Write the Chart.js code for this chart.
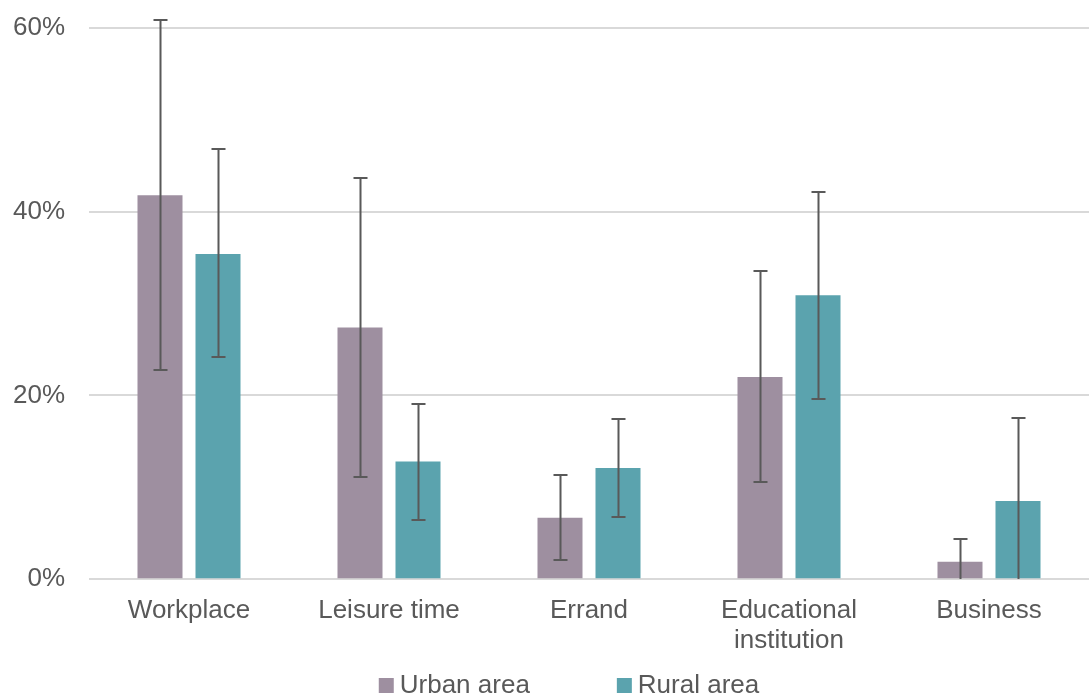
<!DOCTYPE html>
<html>
<head>
<meta charset="utf-8">
<script src="https://cdn.jsdelivr.net/npm/chart.js@4.4.1/dist/chart.umd.min.js"></script>
<style>
  html, body { margin: 0; padding: 0; background: #fff; }
  #wrap { width: 1089px; height: 695px; }
</style>
</head>
<body>
<div id="wrap"><canvas id="tripChart" width="1089" height="695"></canvas></div>
<script>
const categories = ['Workplace', 'Leisure time', 'Errand', ['Educational', 'institution'], 'Business'];
const urbanValues = [41.8, 27.4, 6.7, 22.0, 1.9];
const urbanLow = [22.8, 11.1, 2.1, 10.6, 0];
const urbanHigh = [60.9, 43.7, 11.3, 33.5, 4.4];
const ruralValues = [35.4, 12.8, 12.1, 30.9, 8.5];
const ruralLow = [24.2, 6.4, 6.8, 19.6, 0];
const ruralHigh = [46.8, 19.1, 17.4, 42.1, 17.6];
const yTicks = [0, 20, 40, 60];

const FONT = '"Liberation Sans", Arial, sans-serif';

// whiskers for the confidence ranges
const errorBars = {
    id: 'errorBars',
    afterDatasetsDraw(chart) {
        const ctx = chart.ctx;
        const y = chart.scales.y;
        const ranges = [[urbanLow, urbanHigh], [ruralLow, ruralHigh]];
        ctx.save();
        ctx.strokeStyle = '#595959';
        ctx.lineWidth = 2;
        chart.data.datasets.forEach(function (ds, i) {
            const meta = chart.getDatasetMeta(i);
            meta.data.forEach(function (bar, j) {
                const x = Math.round(bar.x) + 0.5;
                const top = Math.round(y.getPixelForValue(ranges[i][1][j]));
                const bottom = Math.round(y.getPixelForValue(ranges[i][0][j]));
                ctx.beginPath();
                ctx.moveTo(x, top);
                ctx.lineTo(x, bottom);
                ctx.moveTo(x - 7, top);
                ctx.lineTo(x + 7, top);
                if (ranges[i][0][j] > 0) {
                    ctx.moveTo(x - 7, bottom);
                    ctx.lineTo(x + 7, bottom);
                }
                ctx.stroke();
            });
        });
        ctx.restore();
    }
};

// legend with wide spacing between the two entries
const wideLegend = {
    id: 'wideLegend',
    afterDraw(chart) {
        const ctx = chart.ctx;
        const box = 15, gapText = 6, gapItem = 87;
        const yMid = 685;
        ctx.save();
        ctx.font = '26px ' + FONT;
        ctx.textBaseline = 'middle';
        ctx.textAlign = 'left';
        const items = chart.data.datasets.map(function (ds) {
            return { text: ds.label, color: ds.backgroundColor, w: ctx.measureText(ds.label).width };
        });
        let total = 0;
        items.forEach(function (it, i) {
            total += box + gapText + it.w + (i > 0 ? gapItem : 0);
        });
        let x = 569 - total / 2;
        items.forEach(function (it) {
            ctx.fillStyle = it.color;
            ctx.fillRect(x, yMid - 7, box, box);
            ctx.fillStyle = '#595959';
            ctx.fillText(it.text, x + box + gapText, yMid + 1);
            x += box + gapText + it.w + gapItem;
        });
        ctx.restore();
    }
};

Chart.defaults.font.family = FONT;
Chart.defaults.font.size = 26;
Chart.defaults.font.lineHeight = 1.15;
Chart.defaults.color = '#595959';

const ctx = document.getElementById('tripChart').getContext('2d');
const tripChart = new Chart(ctx, {
    type: 'bar',
    data: {
        labels: categories,
        datasets: [{
            label: 'Urban area',
            data: urbanValues,
            backgroundColor: '#9E8FA0'
        }, {
            label: 'Rural area',
            data: ruralValues,
            backgroundColor: '#5BA3AE'
        }]
    },
    options: {
        responsive: false,
        animation: false,
        devicePixelRatio: 1,
        categoryPercentage: 0.58,
        barPercentage: 0.776,
        layout: { padding: { top: 28, right: 0, left: 0, bottom: 22 } },
        plugins: {
            tooltip: { enabled: false },
            legend: { display: false }
        },
        scales: {
            x: {
                grid: { display: false, drawTicks: false },
                border: { display: false },
                ticks: { padding: 17, maxRotation: 0, autoSkip: false }
            },
            y: {
                min: 0,
                max: 60,
                afterBuildTicks: function (axis) {
                    axis.ticks = yTicks.map(function (v) { return { value: v }; });
                },
                afterFit: function (axis) {
                    axis.width = 89;
                    axis.paddingTop = 0;
                    axis.paddingBottom = 0;
                },
                grid: { color: '#D9D9D9', lineWidth: 2, drawTicks: false },
                border: { display: false },
                ticks: {
                    padding: 24,
                    callback: function (v) { return v + '%'; }
                }
            }
        }
    },
    plugins: [errorBars, wideLegend]
});
</script>
</body>
</html>
